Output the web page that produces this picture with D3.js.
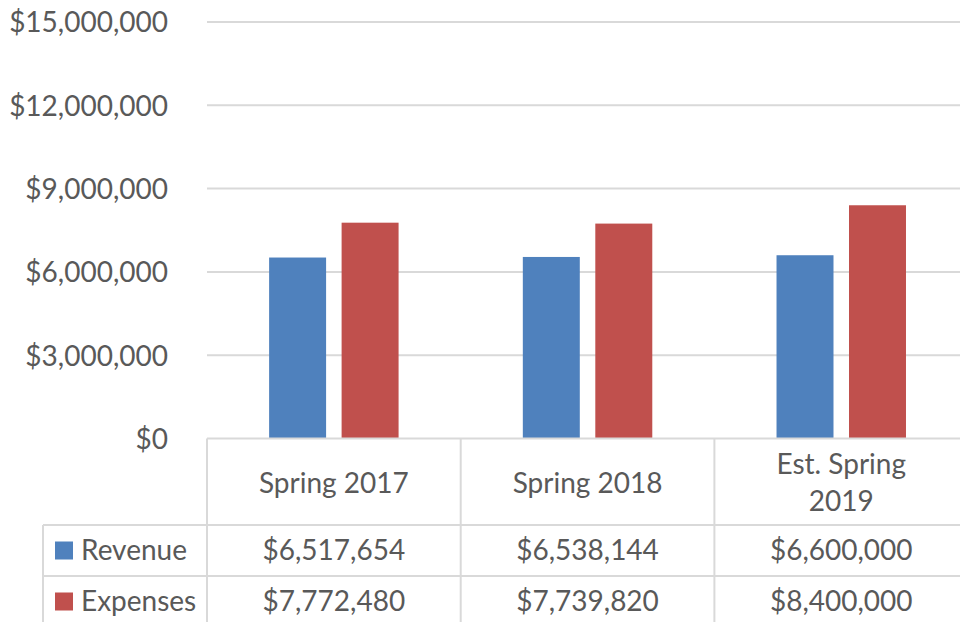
<!DOCTYPE html>
<html>
<head>
<meta charset="utf-8">
<script src="https://cdn.jsdelivr.net/npm/d3@7"></script>
<style>
  html, body { margin: 0; padding: 0; background: #fff; }
  svg { display: block; }
  text { font-family: Lato, "Open Sans", sans-serif; fill: #595959; }
</style>
</head>
<body>
<svg id="chart" width="960" height="622"></svg>
<script>
const categories = ["Spring 2017", "Spring 2018", "Est. Spring 2019"];
const categoryLines = [["Spring 2017"], ["Spring 2018"], ["Est. Spring", "2019"]];
const seriesNames = ["Revenue", "Expenses"];
const revenue = [6517654, 6538144, 6600000];
const expenses = [7772480, 7739820, 8400000];
const yTicks = [0, 3000000, 6000000, 9000000, 12000000, 15000000];
const colors = ["#4F81BD", "#C0504D"];

const seriesValues = [revenue, expenses];
const svg = d3.select("#chart");
const FS = 28;

const plotLeft = 207, plotRight = 960;
const colW = 253.7;
const y = d3.scaleLinear().domain([0, 15000000]).range([438.5, 22]);
const x0 = d3.scaleBand().domain(categories).range([plotLeft, plotLeft + 3 * colW]);
const x1 = d3.scaleBand().domain(seriesNames).range([0, x0.bandwidth()])
  .paddingInner(0.214).paddingOuter(0.857);

const gridColor = "#d9d9d9";
const fmtMoney = v => "$" + d3.format(",")(v);

// gridlines
svg.append("g").selectAll("line").data(yTicks.filter(t => t > 0)).join("line")
  .attr("x1", plotLeft).attr("x2", plotRight)
  .attr("y1", d => y(d)).attr("y2", d => y(d))
  .attr("stroke", gridColor).attr("stroke-width", 2);

// y axis labels
const yAxis = d3.axisLeft(y).tickValues(yTicks).tickSize(0).tickPadding(0).tickFormat(fmtMoney);
const gy = svg.append("g").attr("transform", "translate(168,0)").call(yAxis);
gy.select(".domain").remove();
gy.selectAll("text").attr("font-size", FS).attr("font-family", "Lato, 'Open Sans', sans-serif")
  .attr("fill", "#595959").attr("dy", "0.35em");

// bars
const groups = svg.append("g").selectAll("g").data(categories).join("g")
  .attr("transform", d => `translate(${x0(d)},0)`);
groups.selectAll("rect").data((d, i) => seriesNames.map((s, j) => ({s, j, v: seriesValues[j][i]})))
  .join("rect")
  .attr("x", d => x1(d.s)).attr("width", x1.bandwidth())
  .attr("y", d => y(d.v)).attr("height", d => y(0) - y(d.v))
  .attr("fill", d => colors[d.j]);

// data table
const tTop = 438.5, r1 = 525, r2 = 576, tBottom = 640, legendLeft = 43;
const tg = svg.append("g").attr("stroke", gridColor).attr("stroke-width", 2);
tg.append("line").attr("x1", plotLeft).attr("x2", plotRight).attr("y1", tTop).attr("y2", tTop);
tg.append("line").attr("x1", legendLeft).attr("x2", plotRight).attr("y1", r1).attr("y2", r1);
tg.append("line").attr("x1", legendLeft).attr("x2", plotRight).attr("y1", r2).attr("y2", r2);
tg.append("line").attr("x1", legendLeft).attr("x2", legendLeft).attr("y1", r1).attr("y2", tBottom);
const colEdges = categories.map(c => x0(c));
tg.selectAll(".vl").data(colEdges).join("line").attr("class", "vl")
  .attr("x1", d => d).attr("x2", d => d).attr("y1", tTop).attr("y2", tBottom);

// category header
const hdr = svg.append("g").selectAll("text").data(categories).join("text")
  .attr("text-anchor", "middle").attr("font-size", FS)
  .attr("x", d => x0(d) + x0.bandwidth() / 2);
hdr.each(function(d, i) {
  const lines = categoryLines[i];
  const t = d3.select(this);
  const mid = (tTop + r1) / 2 + 1;
  const lh = 37;
  lines.forEach((ln, k) => {
    t.append("tspan").attr("x", x0(d) + x0.bandwidth() / 2)
      .attr("y", mid + (k - (lines.length - 1) / 2) * lh).attr("dy", "0.35em").text(ln);
  });
});

// value rows
const rowMids = [(r1 + r2) / 2, (r2 + 627) / 2];
seriesNames.forEach((s, j) => {
  svg.append("g").selectAll("text").data(categories).join("text")
    .attr("text-anchor", "middle").attr("font-size", FS)
    .attr("x", d => x0(d) + x0.bandwidth() / 2)
    .attr("y", rowMids[j]).attr("dy", "0.35em")
    .text((d, i) => fmtMoney(seriesValues[j][i]));
  svg.append("rect").attr("x", 55).attr("y", rowMids[j] - 9).attr("width", 18).attr("height", 18)
    .attr("fill", colors[j]);
  svg.append("text").attr("x", 81).attr("y", rowMids[j]).attr("dy", "0.35em")
    .attr("font-size", FS).text(s);
});
</script>
</body>
</html>
